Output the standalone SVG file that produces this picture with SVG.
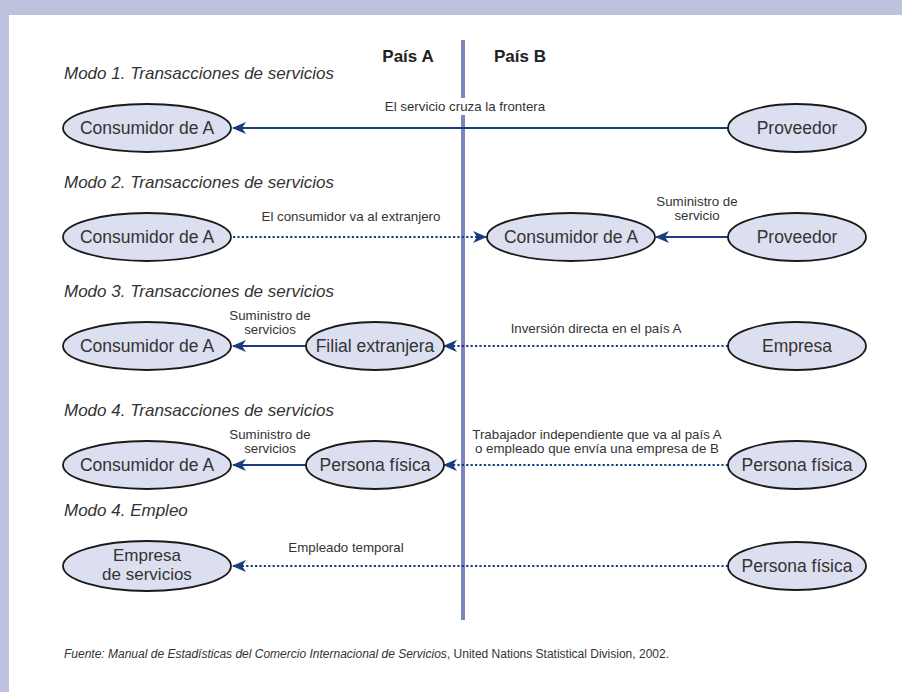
<svg xmlns="http://www.w3.org/2000/svg" width="902" height="692" viewBox="0 0 902 692">
<style>
.node ellipse{fill:#dcdff0;stroke:#1a1a1a;stroke-width:1.8}
.nt{font-family:"Liberation Sans","Noto Sans",sans-serif;font-size:17.5px;fill:#333;text-anchor:middle}
.nt2{font-family:"Liberation Sans","Noto Sans",sans-serif;font-size:17px;fill:#333;text-anchor:middle}
.hd{font-family:"Liberation Sans","Noto Sans",sans-serif;font-size:17px;font-style:italic;fill:#333}
.lb{font-family:"Liberation Sans","Noto Sans",sans-serif;font-size:13.3px;fill:#333;text-anchor:middle}
.pais{font-family:"Liberation Sans","Noto Sans",sans-serif;font-size:17px;font-weight:bold;fill:#222;text-anchor:middle}
.solid{stroke:#1b3d80;stroke-width:2.2;fill:none;marker-end:url(#ah)}
.dot{stroke:#1b3d80;stroke-width:2.2;fill:none;stroke-dasharray:2.2 2.2;marker-end:url(#ah)}
.ft{font-family:"Liberation Sans","Noto Sans",sans-serif;font-size:12px;fill:#333}
</style>
<defs>
<marker id="ah" viewBox="0 0 14 12" refX="13" refY="6" markerWidth="14" markerHeight="12" markerUnits="userSpaceOnUse" orient="auto">
<path d="M0,0 L14,6 L0,12 L4,6 Z" fill="#1b3d80"/>
</marker>
</defs>
<rect x="0" y="0" width="902" height="692" fill="#ffffff"/>
<rect x="0" y="0" width="902" height="15" fill="#bec2dc"/>
<rect x="0" y="0" width="9" height="692" fill="#bec2dc"/>

<line x1="463" y1="40" x2="463" y2="620" stroke="#7c86bd" stroke-width="4"/>
<text class="pais" x="408" y="62">País A</text>
<text class="pais" x="520" y="62">País B</text>

<text class="hd" x="64" y="79">Modo 1. Transacciones de servicios</text>
<text class="hd" x="64" y="188">Modo 2. Transacciones de servicios</text>
<text class="hd" x="64" y="297">Modo 3. Transacciones de servicios</text>
<text class="hd" x="64" y="416">Modo 4. Transacciones de servicios</text>
<text class="hd" x="64" y="516">Modo 4. Empleo</text>

<g id="connectors">
<line class="solid" x1="728" y1="128" x2="233" y2="128"/>
<line class="dot" x1="233" y1="237" x2="486" y2="237"/>
<line class="solid" x1="728" y1="237" x2="656" y2="237"/>
<line class="solid" x1="306" y1="346" x2="233" y2="346"/>
<line class="dot" x1="728" y1="346" x2="444" y2="346"/>
<line class="solid" x1="306" y1="465" x2="233" y2="465"/>
<line class="dot" x1="728" y1="465" x2="444" y2="465"/>
<line class="dot" x1="728" y1="566" x2="233" y2="566"/>
<rect x="380" y="98" width="170" height="17" fill="#ffffff"/>
<text class="lb" x="465" y="111">El servicio cruza la frontera</text>
<text class="lb" x="351" y="221">El consumidor va al extranjero</text>
<text class="lb" x="697" y="206">Suministro de</text>
<text class="lb" x="697" y="220">servicio</text>
<text class="lb" x="270" y="320">Suministro de</text>
<text class="lb" x="270" y="334">servicios</text>
<text class="lb" x="596" y="333">Inversión directa en el país A</text>
<text class="lb" x="270" y="439">Suministro de</text>
<text class="lb" x="270" y="453">servicios</text>
<text class="lb" x="597" y="439">Trabajador independiente que va al país A</text>
<text class="lb" x="597" y="453">o empleado que envía una empresa de B</text>
<text class="lb" x="346" y="552">Empleado temporal</text>
</g>

<g id="m1-consumidor" class="node"><ellipse cx="147" cy="128" rx="84" ry="24"/><text class="nt" x="147" y="134">Consumidor de A</text></g>
<g id="m1-proveedor" class="node"><ellipse cx="797" cy="128" rx="69" ry="24"/><text class="nt" x="797" y="134">Proveedor</text></g>

<g id="m2-consumidorA" class="node"><ellipse cx="147" cy="237" rx="84" ry="24"/><text class="nt" x="147" y="243">Consumidor de A</text></g>
<g id="m2-consumidorB" class="node"><ellipse cx="571" cy="237" rx="84" ry="24"/><text class="nt" x="571" y="243">Consumidor de A</text></g>
<g id="m2-proveedor" class="node"><ellipse cx="797" cy="237" rx="69" ry="24"/><text class="nt" x="797" y="243">Proveedor</text></g>

<g id="m3-consumidor" class="node"><ellipse cx="147" cy="346" rx="84" ry="24"/><text class="nt" x="147" y="352">Consumidor de A</text></g>
<g id="m3-filial" class="node"><ellipse cx="375" cy="346" rx="69" ry="24"/><text class="nt" x="375" y="352">Filial extranjera</text></g>
<g id="m3-empresa" class="node"><ellipse cx="797" cy="346" rx="69" ry="24"/><text class="nt" x="797" y="352">Empresa</text></g>

<g id="m4-consumidor" class="node"><ellipse cx="147" cy="465" rx="84" ry="24"/><text class="nt" x="147" y="471">Consumidor de A</text></g>
<g id="m4-persona-a" class="node"><ellipse cx="375" cy="465" rx="69" ry="24"/><text class="nt" x="375" y="471">Persona física</text></g>
<g id="m4-persona-b" class="node"><ellipse cx="797" cy="465" rx="69" ry="24"/><text class="nt" x="797" y="471">Persona física</text></g>

<g id="m5-empresa" class="node"><ellipse cx="147" cy="566" rx="84" ry="25"/><text class="nt2" x="147" y="561">Empresa</text><text class="nt2" x="147" y="580">de servicios</text></g>
<g id="m5-persona" class="node"><ellipse cx="797" cy="566" rx="69" ry="24"/><text class="nt" x="797" y="572">Persona física</text></g>

<text class="ft" x="64" y="658"><tspan font-style="italic">Fuente: Manual de Estadísticas del Comercio Internacional de Servicios</tspan>, United Nations Statistical Division, 2002.</text>
</svg>
